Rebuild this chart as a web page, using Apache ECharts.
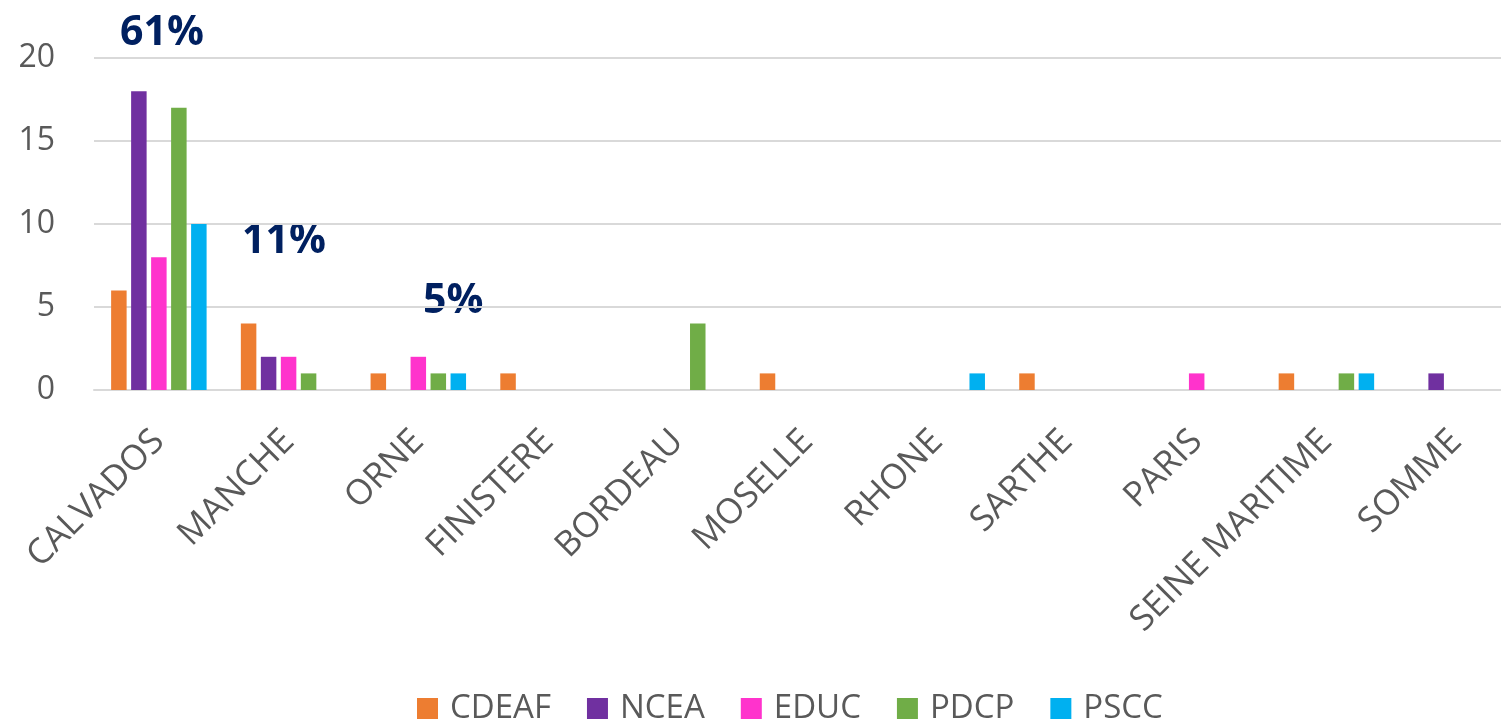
<!DOCTYPE html>
<html>
<head>
<meta charset="utf-8">
<script src="https://cdn.jsdelivr.net/npm/echarts@6/dist/echarts.min.js"></script>
<style>
html,body{margin:0;padding:0;background:#fff;}
#chart{width:1501px;height:725px;}
</style>
</head>
<body>
<div id="chart"></div>
<script>
const categories = ['CALVADOS','MANCHE','ORNE','FINISTERE','BORDEAU','MOSELLE','RHONE','SARTHE','PARIS','SEINE MARITIME','SOMME'];
const seriesNames = ['CDEAF','NCEA','EDUC','PDCP','PSCC'];
const CDEAF = [6,4,1,1,0,1,0,1,0,1,0];
const NCEA  = [18,2,0,0,0,0,0,0,0,0,1];
const EDUC  = [8,2,2,0,0,0,0,0,1,0,0];
const PDCP  = [17,1,1,0,4,0,0,0,0,1,0];
const PSCC  = [10,0,1,0,0,0,1,0,0,1,0];
const yTicks = [0,5,10,15,20];
const annotations = ['61%','11%','5%'];

const values = [CDEAF,NCEA,EDUC,PDCP,PSCC];
const colors = ['#ED7D31','#7030A0','#FF33CC','#70AD47','#00B0F0'];
const font = 'Open Sans';

const chart = echarts.init(document.getElementById('chart'));
chart.setOption({
  animation:false,
  textStyle:{fontFamily:font},
  grid:{left:94, top:58, width:1427, height:332, containLabel:false, outerBoundsMode:'none'},
  legend:{
    data:seriesNames,
    left:412, bottom:-5,
    icon:'rect', itemWidth:21, itemHeight:21, itemGap:36,
    textStyle:{fontFamily:font, fontSize:33, color:'#595959', padding:[0,0,0,7]}
  },
  xAxis:{
    type:'category', data:categories,
    axisLine:{lineStyle:{color:'#d9d9d9', width:2}},
    axisTick:{show:false},
    axisLabel:{rotate:45, interval:0, fontSize:35, color:'#595959', fontFamily:font, margin:46}
  },
  yAxis:{
    type:'value', min:yTicks[0], max:yTicks[yTicks.length-1], interval:5,
    axisLine:{show:false}, axisTick:{show:false},
    splitLine:{lineStyle:{color:'#d9d9d9', width:2}},
    axisLabel:{fontSize:32, color:'#595959', fontFamily:font, margin:39}
  },
  graphic:[
    {type:'text', left:120, top:13, style:{text:annotations[0], font:'bold 41px "Open Sans"', fill:'#002060'}},
    {type:'text', left:242, top:221, style:{text:annotations[1], font:'bold 41px "Open Sans"', fill:'#002060'}},
    {type:'text', left:423, top:281, style:{text:annotations[2], font:'bold 41px "Open Sans"', fill:'#002060'}}
  ],
  series: seriesNames.map((n,i)=>({
    name:n, type:'bar', data:values[i],
    barWidth:15.5, barGap:'29%',
    itemStyle:{color:colors[i]}
  }))
});
</script>
</body>
</html>
